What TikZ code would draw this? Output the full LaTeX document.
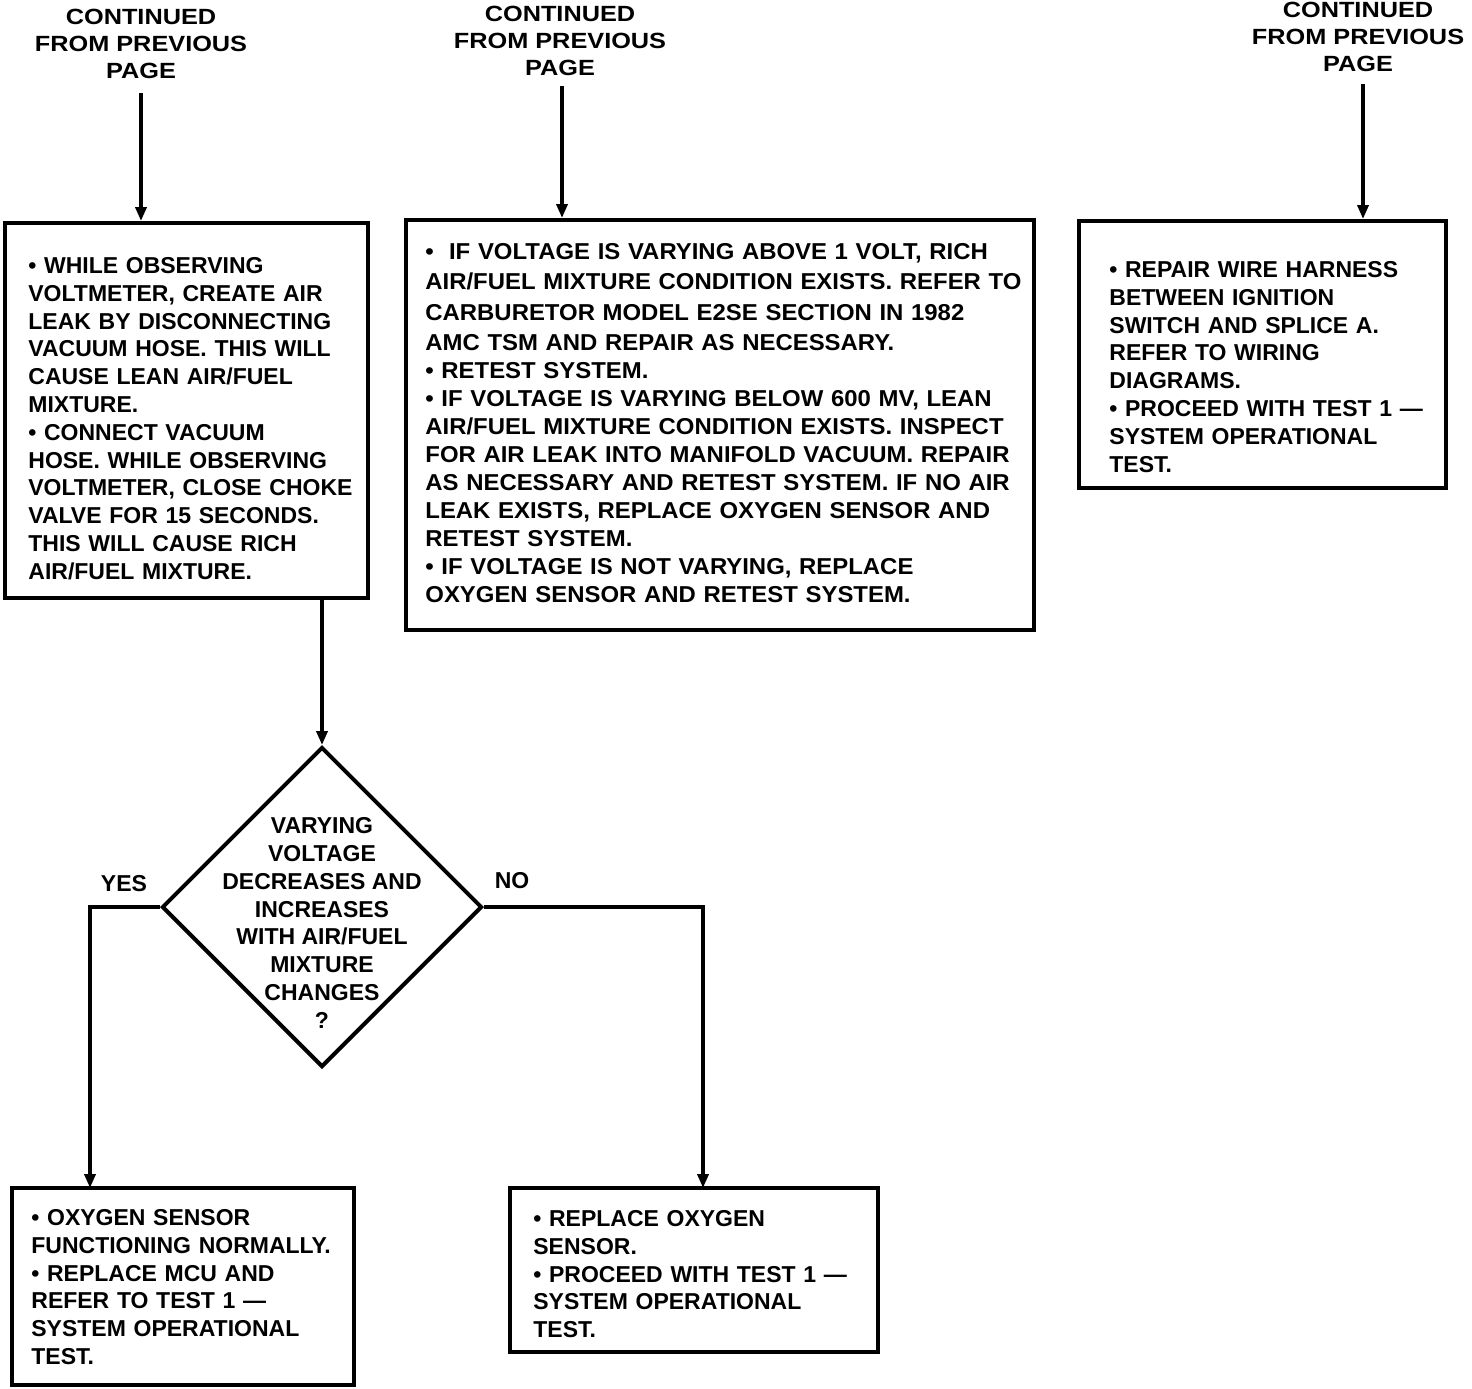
\documentclass[tikz,border=0pt]{standalone}
\usepackage{fontspec}
\setmainfont{Liberation Sans}
\newfontfamily\hdfont[FakeStretch=1.15]{Liberation Sans Bold}
\newfontfamily\bxfont{Liberation Sans Bold}
\newfontfamily\bxwfont[FakeStretch=1.04]{Liberation Sans Bold}
\usetikzlibrary{arrows.meta,shapes.geometric}
\begin{document}
\begin{tikzpicture}[x=0.5pt,y=-0.5pt,
  hd/.style={anchor=north,align=center,inner sep=0pt,font=\hdfont\fontsize{11pt}{13.5pt}\selectfont},
  boxframe/.style={draw,line width=2pt,rectangle,inner sep=0pt},
  boxtext/.style={anchor=north west,align=left,inner sep=0pt,text width=330pt,font=\bxfont\fontsize{11.5pt}{13.9pt}\selectfont},
  lbl/.style={inner sep=0pt,font=\bxfont\fontsize{11.5pt}{13.9pt}\selectfont},
  dec/.style={draw,diamond,line width=2pt,inner sep=0pt,minimum width=160pt,minimum height=160pt},
  arr/.style={line width=2pt,-{Triangle[width=5.5pt,length=7pt]}},
  conn/.style={line width=2pt}]
\useasboundingbox (0,0) rectangle (1472,1388);

% headers
\node[hd] (h1) at (141,9) {CONTINUED\\FROM PREVIOUS\\PAGE};
\node[hd] (h2) at (560,6) {CONTINUED\\FROM PREVIOUS\\PAGE};
\node[hd] (h3) at (1358,2) {CONTINUED\\FROM PREVIOUS\\PAGE};
\coordinate (h1a) at (141,93);
\coordinate (h2a) at (562,86);
\coordinate (h3a) at (1363,84);

% boxes
\node[boxframe,minimum width=181.5pt,minimum height=187.5pt] (b1) at (186.5,410.5) {};
\node[boxtext] (b1t) at (28,257) {%
• WHILE OBSERVING\\
VOLTMETER, CREATE AIR\\
LEAK BY DISCONNECTING\\
VACUUM HOSE. THIS WILL\\
CAUSE LEAN AIR/FUEL\\
MIXTURE.\\
• CONNECT VACUUM\\
HOSE. WHILE OBSERVING\\
VOLTMETER, CLOSE CHOKE\\
VALVE FOR 15 SECONDS.\\
THIS WILL CAUSE RICH\\
AIR/FUEL MIXTURE.};

\node[boxframe,minimum width=314pt,minimum height=205pt] (b2) at (720,425) {};
\node[boxtext,font=\bxwfont\fontsize{11.5pt}{14pt}\selectfont] (b2t) at (425,243) {%
•\ \ IF VOLTAGE IS VARYING ABOVE 1 VOLT, RICH\\[1.2pt]
AIR/FUEL MIXTURE CONDITION EXISTS. REFER TO\\[1.2pt]
CARBURETOR MODEL E2SE SECTION IN 1982\\[1.2pt]
AMC TSM AND REPAIR AS NECESSARY.\\
• RETEST SYSTEM.\\
• IF VOLTAGE IS VARYING BELOW 600 MV, LEAN\\
AIR/FUEL MIXTURE CONDITION EXISTS. INSPECT\\
FOR AIR LEAK INTO MANIFOLD VACUUM. REPAIR\\
AS NECESSARY AND RETEST SYSTEM. IF NO AIR\\
LEAK EXISTS, REPLACE OXYGEN SENSOR AND\\
RETEST SYSTEM.\\
• IF VOLTAGE IS NOT VARYING, REPLACE\\
OXYGEN SENSOR AND RETEST SYSTEM.};

\node[boxframe,minimum width=183.5pt,minimum height=133.5pt] (b3) at (1262.5,354.5) {};
\node[boxtext] (b3t) at (1109,261) {%
• REPAIR WIRE HARNESS\\
BETWEEN IGNITION\\
SWITCH AND SPLICE A.\\
REFER TO WIRING\\
DIAGRAMS.\\
• PROCEED WITH TEST 1 —\\
SYSTEM OPERATIONAL\\
TEST.};

\node[boxframe,minimum width=171pt,minimum height=98.5pt] (b4) at (183,1286.5) {};
\node[boxtext] (b4t) at (31,1209) {%
• OXYGEN SENSOR\\
FUNCTIONING NORMALLY.\\
• REPLACE MCU AND\\
REFER TO TEST 1 —\\
SYSTEM OPERATIONAL\\
TEST.};

\node[boxframe,minimum width=184pt,minimum height=82pt] (b5) at (694,1270) {};
\node[boxtext] (b5t) at (533,1210) {%
• REPLACE OXYGEN\\
SENSOR.\\
• PROCEED WITH TEST 1 —\\
SYSTEM OPERATIONAL\\
TEST.};

% decision
\node[dec] (dia) at (322,907) {};
\node[align=center,inner sep=0pt,font=\bxfont\fontsize{11.5pt}{13.9pt}\selectfont] (diat) at (322,923) {%
VARYING\\VOLTAGE\\DECREASES AND\\INCREASES\\WITH AIR/FUEL\\MIXTURE\\CHANGES\\?};

\node[lbl] (yes) at (124,884) {YES};
\node[lbl] (no) at (512,881) {NO};
\coordinate (yk) at (90,1188);
\coordinate (nk) at (703,1188);

% connectors
\draw[arr] (h1a) -- (h1a |- b1.north);
\draw[arr] (h2a) -- (h2a |- b2.north);
\draw[arr] (h3a) -- (h3a |- b3.north);
\draw[arr] (dia.north |- b1.south) -- (dia.north);
\draw[arr] (dia.west) -| (yk);
\draw[arr] (dia.east) -| (nk);
\end{tikzpicture}
\end{document}
